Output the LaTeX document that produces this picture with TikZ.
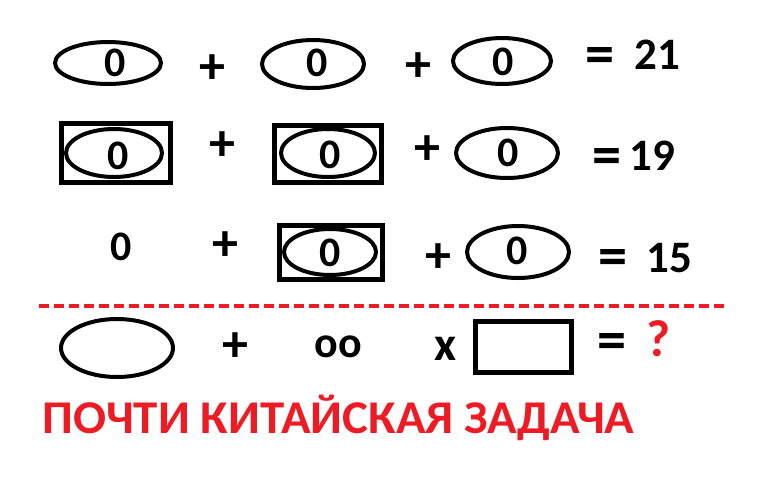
\documentclass[tikz,border=0pt]{standalone}
\usepackage{fontspec}
\setmainfont{Carlito}
\definecolor{paintred}{HTML}{ED1C24}
\tikzset{
  eq/.style={font=\bfseries\fontsize{45}{45}\selectfont, inner sep=0pt},
  op/.style={font=\bfseries\fontsize{52}{52}\selectfont, inner sep=0pt},
  zero/.style={font=\bfseries\fontsize{42}{42}\selectfont, inner sep=0pt},
  ring/.style={line width=4pt},
  box/.style={line width=5pt},
}
\begin{document}
\begin{tikzpicture}[x=1pt, y=-1pt, draw=black]
	\useasboundingbox (0,0) rectangle (768,480);
	% 1. Zeile
	\draw[ring] (108,63)  ellipse (53 and 21);
	\node[zero] (z11) at (115,63)  {0};
	\node[op]   (p11) at (212,69)  {+};
	\draw[ring] (313,64)  ellipse (51 and 24);
	\node[zero] (z12) at (317,63)  {0};
	\node[op]   (p12) at (418,67)  {+};
	\draw[ring] (502,61)  ellipse (49 and 23);
	\node[zero] (z13) at (503,62)  {0};
	\node[op, scale=1.12] (q1) at (600,61) {=};
	\node[eq]   (r1)  at (657,55)  {21};
	% 2. Zeile
	\draw[box]  (61,123)  rectangle ++(109,59);
	\draw[ring] (114,153) ellipse (48 and 24);
	\node[zero] (z21) at (118,156) {0};
	\node[op]   (p21) at (222,146) {+};
	\draw[box]  (274,125) rectangle ++(107,57);
	\draw[ring] (328,153) ellipse (47 and 24);
	\node[zero] (z22) at (330,155) {0};
	\node[op]   (p22) at (427,150) {+};
	\draw[ring] (507,153) ellipse (51 and 25);
	\node[zero] (z23) at (508,153) {0};
	\node[op, scale=1.12] (q2) at (607,161) {=};
	\node[eq]   (r2)  at (652,156) {19};
	% 3. Zeile
	\node[zero] (z31) at (121,247) {0};
	\node[op]   (p31) at (225,246) {+};
	\draw[box]  (279,225) rectangle ++(103,54);
	\draw[ring] (330,252) ellipse (46 and 23);
	\node[zero] (z32) at (330,253) {0};
	\node[op]   (p32) at (438,258) {+};
	\draw[ring] (518,252) ellipse (51 and 26);
	\node[zero] (z33) at (517,251) {0};
	\node[op, scale=1.12] (q3) at (613,262) {=};
	\node[eq]   (r3)  at (669,258) {15};
	% Trennlinie
	\draw[paintred, line width=4pt, dash pattern=on 10pt off 5pt] (39,306) -- (728,306);
	% Aufgabe
	\draw[ring] (117,348) ellipse (56 and 29);
	\node[op]   (p41) at (235,347) {+};
	\node[font=\bfseries\fontsize{44}{44}\selectfont, inner sep=0pt] (z41) at (338,347) {oo};
	\node[font=\bfseries\fontsize{48}{48}\selectfont, inner sep=0pt] (x41) at (446,349) {x};
	\draw[box]  (475,321) rectangle ++(96,51);
	\node[op, scale=1.12] (q4) at (612,346) {=};
	\node[op, text=paintred] (f4) at (659,339) {?};
	\node[font=\bfseries\fontsize{47}{47}\selectfont, text=paintred, anchor=base west, inner sep=0pt,
	      xscale=1.04, transform shape] (titel) at (42,433) {ПОЧТИ КИТАЙСКАЯ ЗАДАЧА};
\end{tikzpicture}
\end{document}
